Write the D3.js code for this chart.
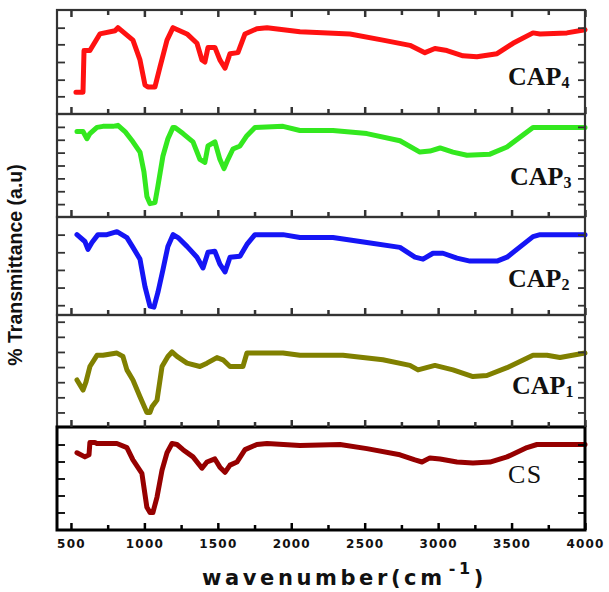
<!DOCTYPE html>
<html><head><meta charset="utf-8">
<script src="https://cdn.jsdelivr.net/npm/d3@7/dist/d3.min.js"></script>
<style>body{margin:0;background:#fff}</style>
</head><body>
<svg id="chart" width="609" height="592"></svg>
<script>
// ---------- data ----------
const xTickValues = [500, 1000, 1500, 2000, 2500, 3000, 3500, 4000];
const xMinorTicks = [750, 1250, 1750, 2250, 2750, 3250, 3750];
const seriesNames = ["CAP4", "CAP3", "CAP2", "CAP1", "CS"];

const cap4W = [534,582,589,629,697,800,820,922,970,1004,1024,1072,1106,1154,1195,1290,1358,1392,1412,1433,1480,1514,1549,1583,1637,1685,1766,1835,2059,2400,2624,2808,2910,2978,3060,3169,3264,3401,3510,3646,3694,3877,4000];
const cap4T = [21,21,61,61,77,80,83,71,52,28,26,26,45,71,83,77,68,52,50,64,64,52,44,58,59,77,82,83,79,77,71,66,59,63,61,56,55,58,68,78,77,78,81];

const cap3W = [541,582,609,629,677,718,786,820,868,922,970,997,1017,1038,1072,1092,1126,1160,1195,1208,1263,1331,1378,1412,1433,1480,1514,1542,1569,1603,1651,1698,1753,1944,2059,2284,2515,2740,2876,2944,3013,3101,3196,3353,3469,3646,4000];
const cap3T = [83,83,76,81,87,88,88,89,83,73,63,44,20,13,14,30,59,76,87,87,81,73,56,53,69,73,56,47,56,66,69,79,87,88,84,84,81,74,63,64,67,63,60,61,68,87,87];

const cap2W = [541,595,616,643,684,745,813,881,922,970,1004,1038,1065,1092,1126,1160,1195,1229,1290,1358,1399,1433,1480,1514,1549,1583,1651,1698,1753,1944,2059,2284,2515,2740,2842,2897,2965,3033,3128,3217,3401,3469,3646,3694,4000];
const cap2T = [82,75,67,74,82,82,85,79,69,57,29,9,8,23,46,70,82,79,70,59,48,64,65,52,44,59,60,72,82,82,79,79,74,69,59,57,63,63,58,55,55,59,80,82,82];

const cap1W = [541,582,602,629,677,718,813,854,881,922,970,1017,1038,1052,1086,1120,1160,1188,1222,1290,1378,1426,1494,1535,1583,1671,1698,1787,1944,2059,2352,2624,2808,2863,2978,3101,3237,3332,3469,3646,3741,3830,4000];
const cap1T = [42,33,40,54,64,64,66,63,51,42,27,13,13,18,24,54,63,67,63,57,54,57,62,60,54,54,66,66,66,64,64,60,55,51,55,51,45,46,53,64,64,62,66];

const csW = [541,595,623,629,663,677,718,813,881,922,983,1017,1038,1058,1086,1120,1154,1188,1222,1263,1331,1392,1426,1480,1514,1549,1583,1630,1685,1766,1835,2059,2332,2515,2740,2842,2890,2944,3013,3128,3237,3353,3469,3605,3673,3782,4000];
const csT = [75,71,73,85,85,84,84,84,80,68,55,22,17,17,32,58,75,84,83,78,71,60,66,69,61,56,63,66,78,83,84,82,83,79,73,68,66,70,69,66,65,66,71,80,83,83,83];

// per-panel y tick values (relative transmittance, a.u.)
const yTicksCap4 = [17, 33, 50, 67, 83];
const yTicksCap3 = [12.5, 25, 37.5, 50, 62.5, 75, 87.5];
const yTicksCap2 = [10, 28, 46, 64, 82];
const yTicksCap1 = [13, 26.5, 40, 53.5, 67, 80.5, 94];
const yTicksCs = [17, 33.5, 50, 66.5, 83];

// ---------- layout / style ----------
const svg = d3.select("#chart");
const left = 57, right = 585;
const bounds = [10, 114, 217, 315, 427, 530];
const colors = ["#ff1111", "#33e81f", "#1515f5", "#808000", "#960000"];
const series = [
  {name: seriesNames[0], w: cap4W, t: cap4T, ticks: yTicksCap4, sub: "4", ly: 85, lx: 508},
  {name: seriesNames[1], w: cap3W, t: cap3T, ticks: yTicksCap3, sub: "3", ly: 185, lx: 510},
  {name: seriesNames[2], w: cap2W, t: cap2T, ticks: yTicksCap2, sub: "2", ly: 287, lx: 508},
  {name: seriesNames[3], w: cap1W, t: cap1T, ticks: yTicksCap1, sub: "1", ly: 394, lx: 512},
  {name: seriesNames[4], w: csW, t: csT, ticks: yTicksCs, sub: "", ly: 483, lx: 508}
];

const x = d3.scaleLinear().domain([405, 4000]).range([left, right]);

function styleAxis(g, color, width) {
  g.select(".domain").remove();
  g.selectAll(".tick line").attr("stroke", color).attr("stroke-width", width);
  g.selectAll(".tick text").remove();
}

const layerCurves = svg.append("g");
const layerFrames = svg.append("g");
const layerTicks = svg.append("g");
const layerText = svg.append("g");

series.forEach((s, i) => {
  const top = bounds[i], bot = bounds[i + 1];
  const isLast = i === series.length - 1;
  const frameColor = isLast ? "#000" : "#333";
  const y = d3.scaleLinear().domain([0, 100]).range([bot, top]);

  // curve
  const line = d3.line().x((d, k) => x(s.w[k])).y(d => y(d));
  layerCurves.append("path").datum(s.t)
    .attr("d", line)
    .attr("fill", "none")
    .attr("stroke", colors[i])
    .attr("stroke-width", 5)
    .attr("stroke-linejoin", "round")
    .attr("stroke-linecap", "round");

  // bottom ticks (pointing up)
  layerTicks.append("g").attr("transform", `translate(0,${bot})`)
    .call(d3.axisTop(x).tickValues(xTickValues).tickSize(7).tickFormat(""))
    .call(g => styleAxis(g, frameColor, 2.5));
  layerTicks.append("g").attr("transform", `translate(0,${bot})`)
    .call(d3.axisTop(x).tickValues(xMinorTicks).tickSize(5).tickFormat(""))
    .call(g => styleAxis(g, frameColor, 2.5));
  if (i === 0) {
    layerTicks.append("g").attr("transform", `translate(0,${top})`)
      .call(d3.axisBottom(x).tickValues(xTickValues).tickSize(7).tickFormat(""))
      .call(g => styleAxis(g, frameColor, 2.5));
    layerTicks.append("g").attr("transform", `translate(0,${top})`)
      .call(d3.axisBottom(x).tickValues(xMinorTicks).tickSize(5).tickFormat(""))
      .call(g => styleAxis(g, frameColor, 2.5));
  }
  // left / right ticks
  layerTicks.append("g").attr("transform", `translate(${left},0)`)
    .call(d3.axisRight(y).tickValues(s.ticks).tickSize(8).tickFormat(""))
    .call(g => styleAxis(g, frameColor, 1.8));
  layerTicks.append("g").attr("transform", `translate(${right},0)`)
    .call(d3.axisLeft(y).tickValues(s.ticks).tickSize(7).tickFormat(""))
    .call(g => styleAxis(g, frameColor, 1.8));

  // frame
  layerFrames.append("rect")
    .attr("x", left).attr("y", top)
    .attr("width", right - left).attr("height", bot - top)
    .attr("fill", "none")
    .attr("stroke", frameColor)
    .attr("stroke-width", isLast ? 3 : 2.2);

  // label
  const lab = layerText.append("text")
    .attr("x", s.lx).attr("y", s.ly)
    .attr("font-family", "'Liberation Serif','Times New Roman',serif")
    .attr("font-size", 26)
    .attr("font-weight", s.sub ? "bold" : "normal")
    .attr("fill", "#111");
  if (s.sub) {
    lab.append("tspan").text("CAP");
    lab.append("tspan").attr("font-size", 16).attr("dy", 3).text(s.sub);
  } else {
    lab.attr("letter-spacing", 1.5).text(s.name);
  }
});

// x tick labels
layerText.append("g").attr("transform", `translate(0,${bounds[5]})`)
  .call(d3.axisBottom(x).tickValues(xTickValues).tickSize(0).tickPadding(9.5).tickFormat(d3.format("d")))
  .call(g => {
    g.select(".domain").remove();
    g.selectAll(".tick text")
      .attr("font-family", "'DejaVu Sans',sans-serif")
      .attr("font-weight", "bold")
      .attr("font-size", 12)
      .attr("letter-spacing", 1.2)
      .attr("fill", "#111");
  });

// x title
const xt = layerText.append("text")
  .attr("x", 202).attr("y", 585)
  .attr("font-family", "'DejaVu Sans',sans-serif")
  .attr("font-weight", "bold")
  .attr("font-size", 21)
  .attr("letter-spacing", 3.6)
  .attr("fill", "#111");
xt.append("tspan").text("wavenumber(cm");
xt.append("tspan").attr("font-size", 16).attr("dy", -11).attr("dx", 3).text("-1");
xt.append("tspan").attr("dy", 11).text(")");

// y title
layerText.append("text")
  .attr("transform", "translate(22,265) rotate(-90)")
  .attr("text-anchor", "middle")
  .attr("font-family", "'Liberation Sans',Arial,sans-serif")
  .attr("font-weight", "bold")
  .attr("font-size", 19.5)
  .attr("fill", "#111")
  .text("% Transmittance (a.u)");
</script>
</body></html>
